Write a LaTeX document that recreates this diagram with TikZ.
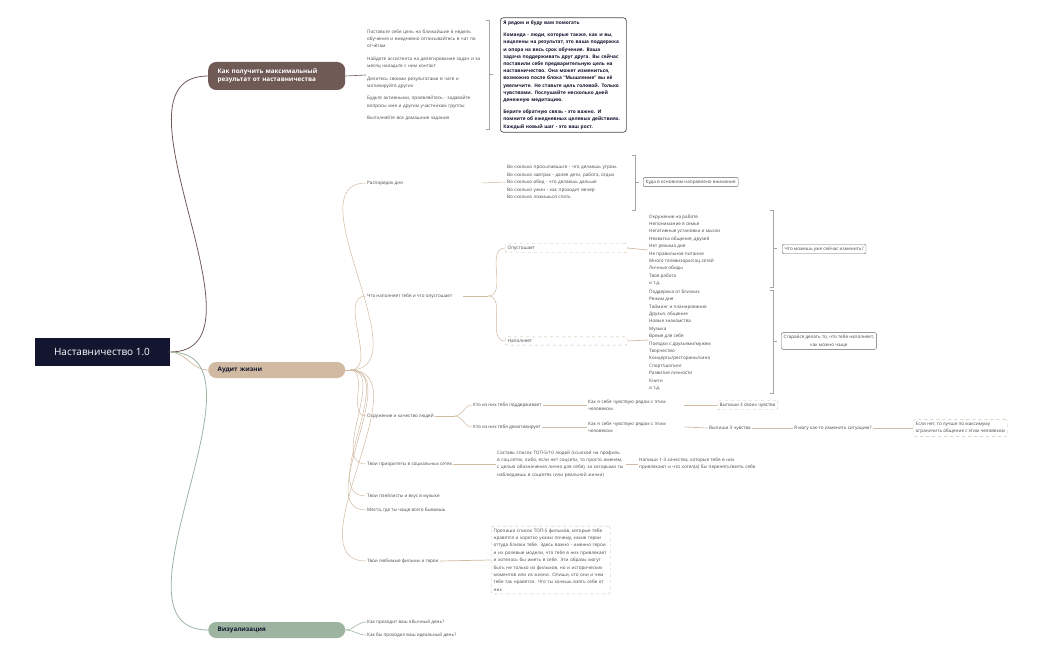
\documentclass[tikz,border=0pt]{standalone}
\usepackage{fontspec}
\setmainfont{Open Sans}
\usetikzlibrary{positioning,calc}
\definecolor{navy}{RGB}{20,22,48}
\definecolor{brownb}{RGB}{112,90,86}
\definecolor{beige}{RGB}{208,186,162}
\definecolor{sage}{RGB}{156,180,160}
\definecolor{txt}{RGB}{70,70,70}
\tikzset{
  tiny/.style={font=\fontsize{4.6}{7.4}\selectfont, text=txt, inner sep=1pt, anchor=west, align=left},
  branch/.style={rounded corners=8pt, minimum width=137pt, font=\fontsize{6.3}{8.5}\selectfont\bfseries, anchor=west, align=left, text width=118pt},
  note/.style={tiny, draw=beige, dashed, rounded corners=2pt, inner sep=2.5pt},
  box/.style={tiny, draw=gray!80!black, rounded corners=2pt, inner sep=2.5pt},
  lnk/.style={draw=beige, line width=0.7pt},
  brk/.style={draw=gray!70, line width=0.5pt},
}
\newcommand{\bracket}[3]{\draw[brk] (#1,#2) -- ++(3,0) -- (#1+3,#3) -- (#1,#3); \draw[brk] (#1+3,{(#2+#3)/2}) -- ++(4,0);}
\begin{document}
\begin{tikzpicture}[x=1pt, y=-1pt]
\useasboundingbox (0,0) rectangle (1050,650);

% root and main branches
\node [fill=navy, text=white, minimum width=135pt, minimum height=28pt, font=\fontsize{10}{12}\selectfont] (root) at (102,352) {Наставничество 1.0};
\node [branch, fill=brownb, text=white, minimum height=28pt] (mentor) at (208,76) {Как получить максимальный\\результат от наставничества};
\node [branch, fill=beige, text=navy, minimum height=16pt] (audit) at (208,370) {Аудит жизни};
\node [branch, fill=sage, text=navy, minimum height=16pt] (visual) at (208,630) {Визуализация};
\draw [draw=brownb, line width=0.8pt] (root.east) to[out=0, in=180] (mentor.west);
\draw [lnk] (root.east) to[out=0, in=180] (audit.west);
\draw [draw=sage, line width=0.8pt] (root.east) to[out=0, in=180] (visual.west);

% mentoring tips
\node [tiny, text width=118pt] (tips) at (366,75) {Поставьте себе цель на ближайшие 6 недель обучения и ежедневно отписывайтесь в чат по отчётам\\[5pt]
Найдите ассистента на делегирование задач и за месяц наладьте с ним контакт\\[5pt]
Делитесь своими результатами в чате и мотивируйте других\\[5pt]
Будьте активными, проявляйтесь - задавайте вопросы мне и другим участникам группы\\[5pt]
Выполняйте все домашние задания};
\draw [draw=brownb, line width=0.6pt] (mentor.east) -- (tips.west);
\bracket{486}{20}{129}
\node [box, draw=gray!60!black, line width=0.7pt, rounded corners=3pt, text width=120pt, text=navy, font=\fontsize{4.8}{7.2}\selectfont\bfseries, inner sep=3pt] (help) at (500,75) {Я рядом и буду вам помогать\\[5pt]
Команда - люди, которые также, как и вы, нацелены на результат, это ваша поддержка и опора на весь срок обучения. Ваша задача поддерживать друг друга. Вы сейчас поставили себе предварительную цель на наставничество. Она может измениться, возможно после блока "Мышление" вы её увеличите. Не ставьте цель головой. Только чувствами. Послушайте несколько дней денежную медитацию.\\[5pt]
Берите обратную связь - это важно. И помните об ежедневных целевых действиях. Каждый новый шаг - это ваш рост.};

% audit branches
\coordinate (trunk) at (350,370);
\draw [lnk, line width=0.5pt] (audit.east) -- (trunk);
\node [tiny] (day) at (366,183) {Распорядок дня};
\node [tiny] (fill) at (366,296) {Что наполняет тебя и что опустошает};
\node [tiny] (people) at (366,416) {Окружение и качество людей};
\node [tiny] (social) at (366,464) {Твои приоритеты в социальных сетях};
\node [tiny] (music) at (366,496) {Твои плейлисты и вкус в музыке};
\node [tiny] (places) at (366,510) {Места, где ты чаще всего бываешь};
\node [tiny] (films) at (366,561) {Твои любимые фильмы и герои};
\foreach \n in {day,fill,people,social,music,places,films}
  \draw [lnk, line width=0.5pt] (trunk) to[out=0, in=180] (\n.west);

% daily routine
\node [tiny, text width=125pt] (routine) at (506,182) {Во сколько просыпаешься - что делаешь утром.\\Во сколько завтрак - далее дети, работа, отдых\\Во сколько обед - что делаешь дальше\\Во сколько ужин - как проходит вечер\\Во сколько ложишься спать};
\coordinate (dayend) at (482,183);
\draw [lnk, line width=0.5pt] (dayend) -- (routine.west);
\bracket{632}{155}{210}
\node [box] (focus) at (643,182) {Куда в основном направлено внимание};

% fill and drain
\node [note, text width=117pt] (drain) at (505,248) {Опустошает};
\node [note, text width=117pt] (filler) at (505,341) {Наполняет};
\coordinate (fillend) at (488,296);
\draw [lnk, line width=0.5pt] ($(fill.east)+(10,0)$) -- (fillend);
\draw [lnk, line width=0.5pt] (fillend) to[out=0, in=180] (drain.west);
\draw [lnk, line width=0.5pt] (fillend) to[out=0, in=180] (filler.west);
\node [tiny] (drainlist) at (648,250) {Окружение на работе\\Непонимание в семье\\Негативные установки и мысли\\Нехватка общения, друзей\\Нет режима дня\\Не правильное питание\\Много телевизора/соц.сетей\\Личные обиды\\Твоя работа\\и т.д.};
\node [tiny] (filllist) at (648,340) {Поддержка от близких\\Режим дня\\Тайминг и планирование\\Друзья, общение\\Новые знакомства\\Музыка\\Время для себя\\Поездки с друзьями/мужем\\Творчество\\Концерты/рестораны/кино\\Спорт/шопинг\\Развитие личности\\Книги\\и т.д.};
\draw [lnk] (drain.east) -- (drainlist.west);
\draw [lnk] (filler.east) -- (filllist.west);
\bracket{770}{210}{287}
\bracket{770}{290}{393}
\node [box] (change) at (782,249) {Что можешь уже сейчас изменить?};
\node [box, align=center] (often) at (781,341) {Старайся делать то, что тебя наполняет,\\как можно чаще};

% people
\node [tiny] (support) at (472,405) {Кто из них тебя поддерживает};
\node [tiny] (demot) at (472,427) {Кто из них тебя демотивирует};
\draw [lnk, line width=0.5pt] (people.east) -- ++(20,0) coordinate (pp);
\draw [lnk, line width=0.5pt] (pp) to[out=0, in=180] (support.west);
\draw [lnk, line width=0.5pt] (pp) to[out=0, in=180] (demot.west);
\node [tiny, text width=95pt] (feel1) at (587,405) {Как я себя чувствую рядом с этим человеком.};
\node [tiny, text width=95pt] (feel2) at (587,427) {Как я себя чувствую рядом с этим человеком};
\draw [lnk] (support.east) -- (feel1.west);
\draw [lnk] (demot.east) -- (feel2.west);
\node [note] (write1) at (717,405) {Выпиши 3 своих чувства};
\node [tiny] (write2) at (708,428) {Выпиши 3 чувства};
\draw [lnk] (feel1.east) -- (write1.west);
\draw [lnk] (feel2.east) -- (write2.west);
\node [tiny] (canchange) at (793,428) {Я могу как-то изменить ситуацию?};
\draw [lnk] (write2.east) -- (canchange.west);
\node [note] (limit) at (913,428) {Если нет, то лучше по максимуму\\ограничить общение с этим человеком};
\draw [lnk] (canchange.east) -- (limit.west);

% social networks
\node [tiny, text width=128pt] (top) at (496,464) {Составь список ТОП-5/10 людей (ссылкой на профиль в соц.сетях, либо, если нет соцсети, то просто именем, с целью обозначения лично для себя), за которыми ты наблюдаешь в соцсетях (или реальной жизни)};
\draw [lnk] (social.east) -- (top.west);
\node [tiny, text width=118pt] (qual) at (638,464) {Напиши 1-3 качества, которые тебя в них привлекают и что хотел(а) бы перенять/взять себе};
\draw [lnk] (top.east) -- (qual.west);

% films
\node [note, text width=114pt] (filmlist) at (491,560) {Пропиши список ТОП-5 фильмов, которые тебе нравятся и коротко укажи почему, какие герои оттуда близки тебе. Здесь важно - именно герои и их ролевые модели, что тебя в них привлекает и хотелось бы иметь в себе. Эти образы могут быть не только из фильмов, но и исторических моментов или из жизни. Опиши, кто они и чем тебе так нравятся. Что ты хочешь взять себе от них};
\draw [lnk] (films.east) -- (filmlist.west);

% visualisation
\node [tiny] (usual) at (366,622) {Как проходит ваш обычный день?};
\node [tiny] (ideal) at (366,635) {Как бы проходил ваш идеальный день?};
\draw [draw=sage, line width=0.6pt] (visual.east) to[out=0, in=180] (usual.west);
\draw [draw=sage, line width=0.6pt] (visual.east) to[out=0, in=180] (ideal.west);
\end{tikzpicture}
\end{document}
